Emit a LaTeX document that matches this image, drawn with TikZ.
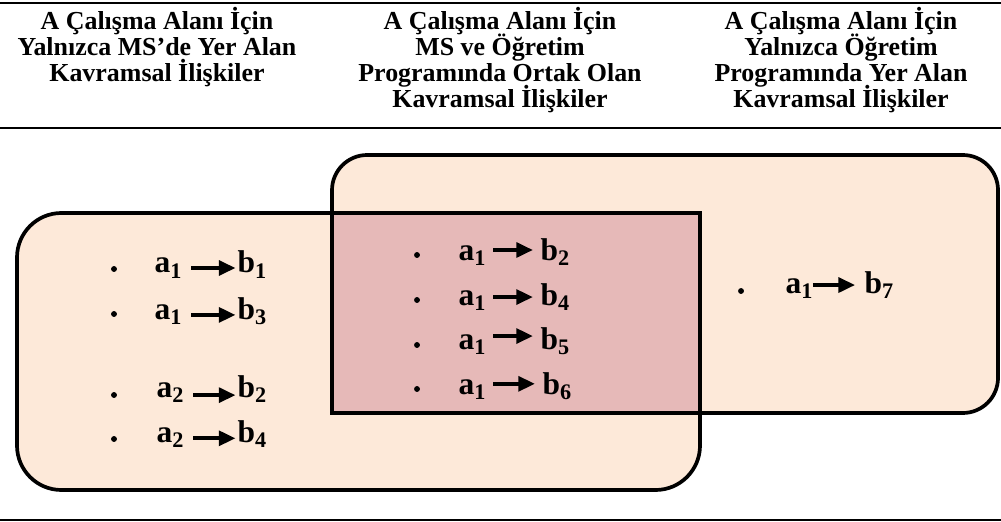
\documentclass[tikz,border=0pt]{standalone}
\usepackage{fontspec}
\setmainfont{Liberation Serif}
\usetikzlibrary{arrows.meta}
\lineskiplimit=-\maxdimen
\newcommand{\idx}[1]{\raisebox{-0.35ex}{\fontsize{12}{12}\selectfont #1}}
\definecolor{lightpeach}{HTML}{FDE9D9}
\definecolor{rosefill}{HTML}{E6B9B8}
\tikzset{
  head/.style={align=center, anchor=north, inner sep=0pt, font=\fontsize{14}{14}\selectfont\bfseries},
  term/.style={anchor=base, inner sep=0pt, font=\fontsize{17}{17}\selectfont\bfseries},
  rel/.style={line width=2pt, -{Triangle[length=9pt,width=8pt]}, shorten <=5pt, shorten >=1pt},
  frame/.style={line width=2pt}
}
\begin{document}
\begin{tikzpicture}[x=0.54pt,y=-0.54pt]
\useasboundingbox (0,0) rectangle (1001,522);
% table rules
\draw[line width=1.6pt] (0,3) -- (1001,3);
\draw[line width=1.6pt] (0,128) -- (1001,128);
\draw[line width=0.6pt] (0,520) -- (1001,520);
% headings
\node[head] (H1) at (157,7) {A Çalışma Alanı İçin\\Yalnızca MS’de Yer Alan\\Kavramsal İlişkiler};
\node[head] (H2) at (500,7) {A Çalışma Alanı İçin\\MS ve Öğretim\\Programında Ortak Olan\\Kavramsal İlişkiler};
\node[head] (H3) at (841,7) {A Çalışma Alanı İçin\\Yalnızca Öğretim\\Programında Yer Alan\\Kavramsal İlişkiler};
% the two sets
\fill[lightpeach] (700,213) -- (400,213) [rounded corners=24pt] -- (17,213) -- (17,490) -- (700,490) -- (700,350) [sharp corners] -- cycle;
\fill[lightpeach] (332,413) -- (332,300) [rounded corners=19pt] -- (332,155) -- (998,155) -- (998,413) -- (600,413) [sharp corners] -- cycle;
\fill[rosefill] (332,213) rectangle (700,413);
\draw[frame] (700,213) -- (400,213) [rounded corners=24pt] -- (17,213) -- (17,490) -- (700,490) -- (700,350) [sharp corners] -- cycle;
\draw[frame] (332,413) -- (332,300) [rounded corners=19pt] -- (332,155) -- (998,155) -- (998,413) -- (600,413) [sharp corners] -- cycle;
% left set
\fill (114,269) circle (1.6pt);
\fill (114,314) circle (1.6pt);
\fill (114,395) circle (1.6pt);
\fill (114,439) circle (1.6pt);
\node[term] (L1a) at (168,273) {a\idx{1}};
\node[term] (L1b) at (252,273) {b\idx{1}};
\node[term] (L2a) at (168,319) {a\idx{1}};
\node[term] (L2b) at (252,319) {b\idx{3}};
\node[term] (L3a) at (170,397) {a\idx{2}};
\node[term] (L3b) at (252,397) {b\idx{2}};
\node[term] (L4a) at (170,442) {a\idx{2}};
\node[term] (L4b) at (252,442) {b\idx{4}};
\draw[rel] ([yshift=2.7pt]L1a.base east) -- ([yshift=2.7pt]L1b.base west);
\draw[rel] ([yshift=2.2pt]L2a.base east) -- ([yshift=2.2pt]L2b.base west);
\draw[rel] ([yshift=1pt]L3a.base east) -- ([yshift=1pt]L3b.base west);
\draw[rel] ([yshift=2pt]L4a.base east) -- ([yshift=2pt]L4b.base west);
% common part
\fill (417,255) circle (1.6pt);
\fill (417,300) circle (1.6pt);
\fill (417,345) circle (1.6pt);
\fill (417,389) circle (1.6pt);
\node[term] (M1a) at (472,260) {a\idx{1}};
\node[term] (M1b) at (555,260) {b\idx{2}};
\node[term] (M2a) at (472,305) {a\idx{1}};
\node[term] (M2b) at (555,305) {b\idx{4}};
\node[term] (M3a) at (472,349) {a\idx{1}};
\node[term] (M3b) at (555,349) {b\idx{5}};
\node[term] (M4a) at (472,394) {a\idx{1}};
\node[term] (M4b) at (557,394) {b\idx{6}};
\draw[rel, shorten <=4pt, shorten >=4pt] ([yshift=5.4pt]M1a.base east) -- ([yshift=5.4pt]M1b.base west);
\draw[rel, shorten <=4pt, shorten >=4pt] ([yshift=4.3pt]M2a.base east) -- ([yshift=4.3pt]M2b.base west);
\draw[rel, shorten <=4pt, shorten >=4pt] ([yshift=7pt]M3a.base east) -- ([yshift=7pt]M3b.base west);
\draw[rel, shorten <=4pt, shorten >=4pt] ([yshift=5.5pt]M4a.base east) -- ([yshift=5.5pt]M4b.base west);
% right set
\fill (741,291) circle (1.6pt);
\node[term] (R1a) at (799,293) {a\idx{1}};
\node[term] (R1b) at (879,293) {b\idx{7}};
\draw[rel, shorten <=0pt, shorten >=5pt] ([yshift=4.3pt]R1a.base east) -- ([yshift=4.3pt]R1b.base west);
\end{tikzpicture}
\end{document}
